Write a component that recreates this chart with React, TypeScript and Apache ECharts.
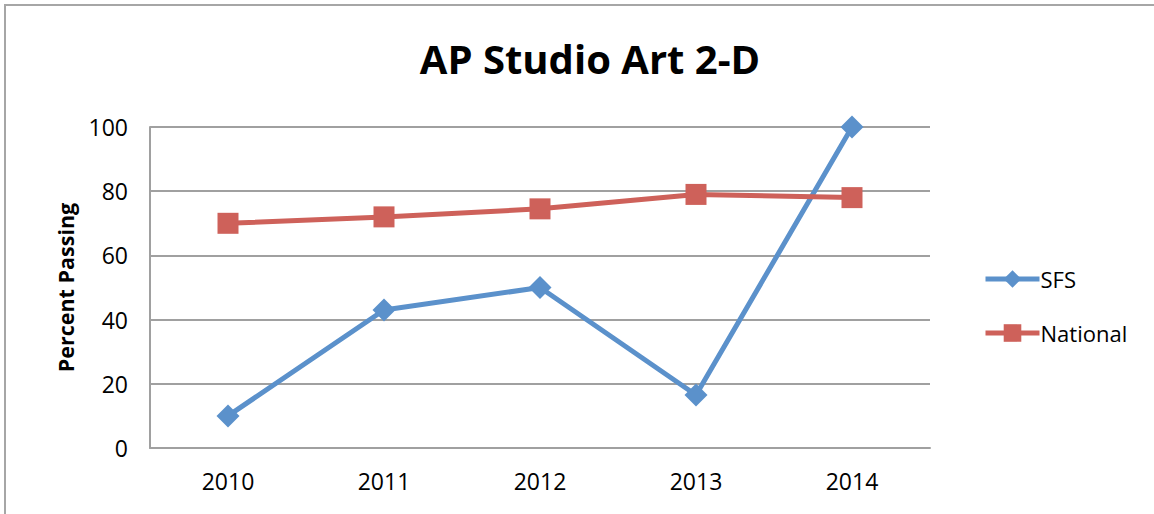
import React, { useEffect, useRef } from "react";
import * as echarts from "echarts";

const categories = ["2010", "2011", "2012", "2013", "2014"];
const sfsValues = [10, 43, 50, 16.5, 100];
const nationalValues = [70, 72, 74.5, 79, 78];
const yTicks = { min: 0, max: 100, interval: 20 };

const FONT = "'Open Sans', 'Noto Sans', sans-serif";
const BLUE = "#5B91CB";
const RED = "#CE615A";

export default function App() {
  const ref = useRef<HTMLDivElement>(null);
  useEffect(() => {
    if (!ref.current) return;
    const chart = echarts.init(ref.current, null, { renderer: "svg" });
    chart.setOption({
      animation: false,
      backgroundColor: "#ffffff",
      title: {
        text: "AP Studio Art 2-D",
        left: 585,
        textAlign: "center",
        top: 33,
        textStyle: { fontFamily: FONT, fontWeight: "bold", fontSize: 40, color: "#000" },
      },
      graphic: [
        {
          type: "rect",
          shape: { x: 5, y: 5, width: 1300, height: 700 },
          style: { fill: "none", stroke: "#a6a6a6", lineWidth: 2 },
          silent: true,
        },
      ],
      legend: {
        orient: "vertical",
        left: 978,
        top: 263,
        itemWidth: 54,
        itemHeight: 22,
        itemGap: 32,
        lineStyle: { width: 5 },
        textStyle: { fontFamily: FONT, fontSize: 22, color: "#000", padding: [0, 0, 0, -4] },
        data: ["SFS", "National"],
      },
      grid: { left: 150, right: 224, top: 127, bottom: 66, containLabel: false },
      xAxis: {
        type: "category",
        data: categories,
        boundaryGap: true,
        axisLine: { lineStyle: { color: "#a0a0a0", width: 2 } },
        axisTick: { show: false },
        axisLabel: { fontFamily: FONT, fontSize: 23, color: "#000", margin: 21 },
      },
      yAxis: {
        type: "value",
        min: yTicks.min,
        max: yTicks.max,
        interval: yTicks.interval,
        name: "Percent Passing",
        nameLocation: "middle",
        nameGap: 74,
        nameTextStyle: { fontFamily: FONT, fontSize: 21.5, fontWeight: "bold", color: "#000" },
        axisLine: { show: true, lineStyle: { color: "#a0a0a0", width: 2 } },
        axisTick: { show: false },
        axisLabel: { fontFamily: FONT, fontSize: 23, color: "#000", margin: 22 },
        splitLine: { lineStyle: { color: "#a0a0a0", width: 2 } },
      },
      series: [
        {
          name: "SFS",
          type: "line",
          data: sfsValues,
          symbol: "diamond",
          symbolSize: 23,
          itemStyle: { color: BLUE },
          lineStyle: { color: BLUE, width: 5 },
        },
        {
          name: "National",
          type: "line",
          data: nationalValues,
          symbol: "rect",
          symbolSize: 21,
          itemStyle: { color: RED },
          lineStyle: { color: RED, width: 5 },
        },
      ],
    });
    return () => chart.dispose();
  }, []);
  return (
    <div
      ref={ref}
      style={{ position: "absolute", left: 0, top: 0, width: 1154, height: 514 }}
    />
  );
}
